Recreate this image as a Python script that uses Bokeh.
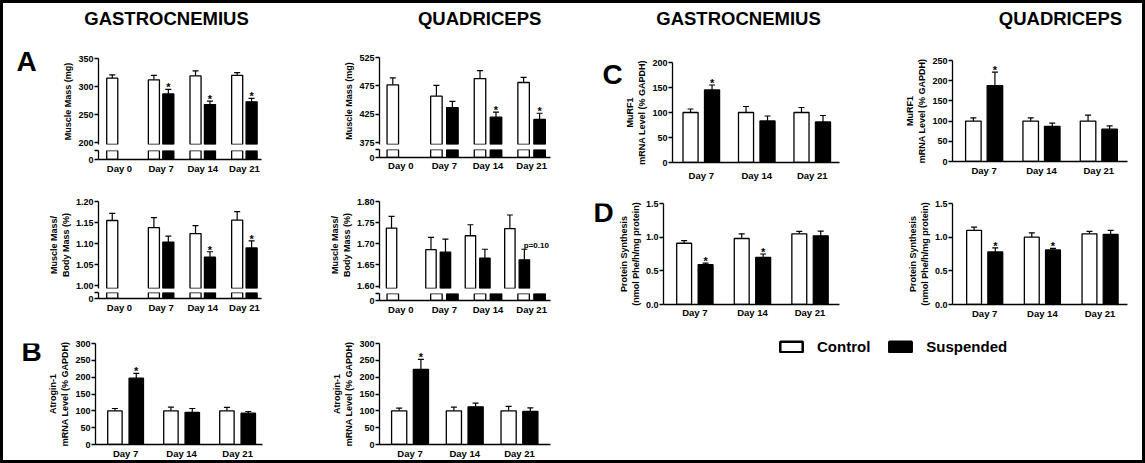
from bokeh.plotting import figure
from bokeh.models import (Range1d, FixedTicker, Whisker, TeeHead, ColumnDataSource,
                          Legend, LegendItem, NumeralTickFormatter)
from bokeh.layouts import row, column
from bokeh.embed import file_html
from bokeh.resources import INLINE
from bokeh.core.properties import value

# ------------------------------------------------------------------ data
days_a = ["Day 0", "Day 7", "Day 14", "Day 21"]
days_bcd = ["Day 7", "Day 14", "Day 21"]
series_names = ["Control", "Suspended"]
muscles = ["GASTROCNEMIUS", "QUADRICEPS"]
panel_letters = ["A", "B", "C", "D"]

gas_mass_ctrl = [315, 312, 319, 320]
gas_mass_ctrl_err = [6, 8, 9, 5]
gas_mass_susp = [287, 268, 273]
gas_mass_susp_err = [8, 6, 6]
gas_mass_note = ["*", "*", "*"]

gas_ratio_ctrl = [1.155, 1.138, 1.124, 1.156]
gas_ratio_ctrl_err = [0.017, 0.024, 0.019, 0.020]
gas_ratio_susp = [1.104, 1.068, 1.090]
gas_ratio_susp_err = [0.014, 0.013, 0.017]
gas_ratio_note = ["", "*", "*"]

quad_mass_ctrl = [477, 457, 488, 481]
quad_mass_ctrl_err = [12, 19, 14, 9]
quad_mass_susp = [437, 420, 416]
quad_mass_susp_err = [11, 9, 11]
quad_mass_note = ["", "*", "*"]

quad_ratio_ctrl = [1.737, 1.686, 1.719, 1.736]
quad_ratio_ctrl_err = [0.028, 0.029, 0.026, 0.032]
quad_ratio_susp = [1.680, 1.666, 1.662]
quad_ratio_susp_err = [0.031, 0.021, 0.025]
quad_ratio_note = ["", "", "p=0.10"]

gas_atro_ctrl = [100, 100, 100]
gas_atro_ctrl_err = [7, 11, 10]
gas_atro_susp = [197, 95, 93]
gas_atro_susp_err = [14, 12, 5]
gas_atro_note = ["*", "", ""]

quad_atro_ctrl = [100, 100, 100]
quad_atro_ctrl_err = [8, 11, 13]
quad_atro_susp = [223, 112, 98]
quad_atro_susp_err = [30, 11, 11]
quad_atro_note = ["*", "", ""]

gas_murf_ctrl = [100, 100, 100]
gas_murf_ctrl_err = [7, 12, 10]
gas_murf_susp = [145, 83, 81]
gas_murf_susp_err = [10, 10, 13]
gas_murf_note = ["*", "", ""]

quad_murf_ctrl = [100, 100, 100]
quad_murf_ctrl_err = [8, 8, 15]
quad_murf_susp = [188, 87, 80]
quad_murf_susp_err = [33, 8, 8]
quad_murf_note = ["*", "", ""]

gas_ps_ctrl = [0.91, 0.98, 1.05]
gas_ps_ctrl_err = [0.04, 0.07, 0.035]
gas_ps_susp = [0.59, 0.70, 1.02]
gas_ps_susp_err = [0.025, 0.05, 0.07]
gas_ps_note = ["*", "*", ""]

quad_ps_ctrl = [1.10, 1.00, 1.05]
quad_ps_ctrl_err = [0.05, 0.065, 0.035]
quad_ps_susp = [0.78, 0.81, 1.04]
quad_ps_susp_err = [0.06, 0.025, 0.06]
quad_ps_note = ["*", "*", ""]

# ------------------------------------------------------------------ helpers
FONT = "Liberation Sans"
TOTAL_W, TOTAL_H = 1145, 463


def yrange(cal, fy0, fy1):
    (v1, p1), (v2, p2) = cal
    k = (v2 - v1) / (p2 - p1)
    return Range1d(v1 + (fy1 - p1) * k, v1 + (fy0 - p1) * k)


def base(width, height, **kw):
    p = figure(width=width, height=height, output_backend="svg", toolbar_location=None,
               tools="", outline_line_color=None, border_fill_color=None,
               background_fill_color=None, **kw)
    p.xgrid.visible = False
    p.ygrid.visible = False
    return p


def make_fig(xb, fx, yb, fy, y_range, xgeo, xaxis):
    x0, x1 = xb
    top, bottom = yb
    fx0, fx1 = fx
    fy0, fy1 = fy
    W = x1 - x0
    left = round(fx0 - x0)
    fw = round(fx1 - fx0)
    T, FT, FB, B = round(top), round(fy0), round(fy1), round(bottom)
    c0, sp = xgeo[0], xgeo[1]
    xr = Range1d((fx0 - c0) / sp, (fx1 - c0) / sp)
    return base(W, B - T, x_range=xr, y_range=y_range,
                min_border_left=left, min_border_right=W - left - fw,
                min_border_top=FT - T, min_border_bottom=B - FB,
                x_axis_location="below" if xaxis else None)


def text_fig(xb, yb, items):
    x0, x1 = xb
    y0, y1 = round(yb[0]), round(yb[1])
    p = base(x1 - x0, y1 - y0, x_range=Range1d(0, x1 - x0), y_range=Range1d(y1 - y0, 0),
             min_border=0, x_axis_location=None, y_axis_location=None)
    for rx, ry, txt, size in items:
        p.text(x=[rx - x0], y=[ry - y0], text=[txt], text_font=value(FONT),
               text_font_style="bold", text_font_size=size, text_align="center",
               text_baseline="middle", text_color="black")
    return p


def style_axis(ax):
    ax.axis_line_width = 1.3
    ax.axis_line_color = "black"
    ax.major_tick_line_width = 1.3
    ax.major_tick_line_color = "black"
    ax.minor_tick_line_color = None
    ax.major_label_text_font = FONT
    ax.major_label_text_font_style = "bold"
    ax.major_label_text_font_size = "9px"
    ax.major_label_text_color = "black"
    ax.axis_label_text_font = FONT
    ax.axis_label_text_font_style = "bold"
    ax.axis_label_text_font_size = "9px"
    ax.axis_label_text_color = "black"


def set_yaxis(p, ticks, fmt=None, label=None, overrides=None):
    ax = p.yaxis[0]
    style_axis(ax)
    ax.ticker = FixedTicker(ticks=ticks)
    ax.major_tick_out = 4
    ax.major_tick_in = 0
    ax.major_label_standoff = 1
    if fmt:
        ax.formatter = NumeralTickFormatter(format=fmt)
    if overrides:
        ax.major_label_overrides = overrides
    if label:
        ax.axis_label = label
        ax.axis_label_standoff = 2


def set_xaxis(p, labels, standoff):
    ax = p.xaxis[0]
    style_axis(ax)
    ax.major_label_text_font_size = "9.5px"
    ax.ticker = FixedTicker(ticks=list(range(len(labels))))
    ax.major_label_overrides = {i: d for i, d in enumerate(labels)}
    ax.major_tick_line_color = None
    ax.major_tick_out = 0
    ax.major_tick_in = 0
    ax.major_label_standoff = standoff


def draw_bars(p, xgeo, ctrl, susp, first_susp):
    c0, sp, off, w = xgeo
    xc = [i - off / sp for i in range(len(ctrl))]
    xs = [first_susp + i + off / sp for i in range(len(susp))]
    p.vbar(x=xc, top=ctrl, bottom=0, width=w / sp, fill_color="white",
           line_color="black", line_width=1.3)
    p.vbar(x=xs, top=susp, bottom=0, width=w / sp, fill_color="black",
           line_color="black", line_width=1.3)
    return xc, xs


def draw_err(p, xs, vals, errs):
    src = ColumnDataSource(dict(x=xs, lo=vals, hi=[v + e for v, e in zip(vals, errs)]))
    p.add_layout(Whisker(source=src, base="x", lower="lo", upper="hi", dimension="height",
                         line_color="black", line_width=1.2, lower_head=None,
                         upper_head=TeeHead(size=6, line_color="black", line_width=1.2)))


def draw_notes(p, xs, vals, errs, notes):
    sx = [x for x, n in zip(xs, notes) if n == "*"]
    sy = [v + e for v, e, n in zip(vals, errs, notes) if n == "*"]
    if sx:
        p.text(x=sx, y=sy, text=["*"] * len(sx), text_font=value(FONT),
               text_font_style="bold", text_font_size="11px", text_align="center",
               text_baseline="alphabetic", y_offset=-2, text_color="black")
    ox = [x for x, n in zip(xs, notes) if n not in ("", "*")]
    oy = [v + e for v, e, n in zip(vals, errs, notes) if n not in ("", "*")]
    ot = [n for n in notes if n not in ("", "*")]
    if ox:
        p.text(x=ox, y=oy, text=ot, text_font=value(FONT), text_font_style="bold",
               text_font_size="8px", text_align="center", text_baseline="alphabetic",
               x_offset=12, y_offset=-4, text_color="black")


def broken_panel(xb, fx, top, fy_up, split, fy_low, bottom, cal, ticks, fmt, label,
                 xgeo, ctrl, cerr, susp, serr, notes, standoff, fx_up_right=None):
    (v1, p1), (v2, p2) = cal
    k = (v2 - v1) / (p2 - p1)
    # the upper part has no x axis; its (invisible) frame may reach further right
    fxu = (fx[0], fx_up_right if fx_up_right else fx[1])
    up = make_fig(xb, fxu, (top, split), fy_up, yrange(cal, *fy_up), xgeo, False)
    set_yaxis(up, ticks, fmt, label)
    xc, xs = draw_bars(up, xgeo, ctrl, susp, 1)
    draw_err(up, xc, ctrl, cerr)
    draw_err(up, xs, susp, serr)
    draw_notes(up, xs, susp, serr, notes)
    hi = (fy_low[0] - fy_low[1]) * k
    lo = make_fig(xb, fx, (split, bottom), fy_low, Range1d(0, hi), xgeo, True)
    set_yaxis(lo, [0, hi], None, None, {0: "0", hi: ""})
    draw_bars(lo, xgeo, ctrl, susp, 1)
    set_xaxis(lo, days_a, standoff)
    return up, lo


def simple_panel(xb, fx, yb, fy, cal, ticks, fmt, label, xgeo,
                 ctrl, cerr, susp, serr, notes, standoff):
    p = make_fig(xb, fx, yb, fy, yrange(cal, *fy), xgeo, True)
    set_yaxis(p, ticks, fmt, label)
    xc, xs = draw_bars(p, xgeo, ctrl, susp, 0)
    draw_err(p, xc, ctrl, cerr)
    draw_err(p, xs, susp, serr)
    draw_notes(p, xs, susp, serr, notes)
    set_xaxis(p, days_bcd, standoff)
    return p


# x-geometry of the groups: first centre, spacing, bar offset, bar width (px)
G_AG = (112.3, 43.3, 7.5, 11.5)
G_AQ = (400.3, 43.6, 8.0, 11.5)
G_BG = (119.6, 58.25, 11.1, 15.0)
G_BQ = (408.5, 55.9, 11.1, 15.5)
G_CG = (695.0, 57.8, 11.2, 15.7)
G_CQ = (983.7, 58.0, 10.9, 15.7)
G_DG = (693.3, 58.0, 10.8, 15.0)
G_DQ = (982.5, 58.25, 10.7, 15.0)
HEAD = 40

# ---- column 1 : gastrocnemius A / B
XA = (45, 290)
a1u, a1l = broken_panel(XA, (90.5, 260), HEAD, (58.3, 144.4), 149, (150, 159.3), 185,
                        ((200, 142.7), (350, 58.3)), [200, 250, 300, 350], None,
                        "Muscle Mass (mg)", G_AG, gas_mass_ctrl, gas_mass_ctrl_err,
                        gas_mass_susp, gas_mass_susp_err, gas_mass_note, 3)
a2u, a2l = broken_panel(XA, (90.5, 260), 185, (200.7, 287.5), 291, (291.7, 299), 315,
                        ((1.20, 200.7), (1.00, 285)), [1.00, 1.05, 1.10, 1.15, 1.20], "0.00",
                        "Muscle Mass/\nBody Mass (%)", G_AG, gas_ratio_ctrl, gas_ratio_ctrl_err,
                        gas_ratio_susp, gas_ratio_susp_err, gas_ratio_note, 3)
b1 = simple_panel(XA, (88.3, 262), (315, TOTAL_H), (343.3, 444.3), ((300, 343.3), (0, 444.3)),
                  [0, 50, 100, 150, 200, 250, 300], None, "Atrogin-1\nmRNA Level (% GAPDH)",
                  G_BG, gas_atro_ctrl, gas_atro_ctrl_err, gas_atro_susp, gas_atro_susp_err,
                  gas_atro_note, 3)
h1 = text_fig((0, 290), (0, HEAD), [(166, 18, muscles[0], "18.5px")])
sA = text_fig((0, 45), (HEAD, 315), [(26, 61, panel_letters[0], "28px")])
sB = text_fig((0, 45), (315, TOTAL_H), [(31, 326, panel_letters[1], "28px")])
col1 = column(h1, row(sA, column(a1u, a1l, a2u, a2l)), row(sB, b1))

# ---- column 2 : quadriceps A / B
XQ = (290, 570)
q1u, q1l = broken_panel(XQ, (379, 550), HEAD, (57.3, 144), 148, (149, 156.7), 182,
                        ((525, 57.3), (375, 142.3)), [375, 425, 475, 525], None,
                        "Muscle Mass (mg)", G_AQ, quad_mass_ctrl, quad_mass_ctrl_err,
                        quad_mass_susp, quad_mass_susp_err, quad_mass_note, 2)
q2u, q2l = broken_panel(XQ, (379, 550), 182, (200.7, 288.2), 292, (292.7, 301), 317,
                        ((1.80, 200.7), (1.60, 285.7)), [1.60, 1.65, 1.70, 1.75, 1.80], "0.00",
                        "Muscle Mass/\nBody Mass (%)", G_AQ, quad_ratio_ctrl, quad_ratio_ctrl_err,
                        quad_ratio_susp, quad_ratio_susp_err, quad_ratio_note, 3,
                        fx_up_right=568)
b2 = simple_panel(XQ, (377.3, 552), (317, TOTAL_H), (343.3, 444.3), ((300, 343.3), (0, 444.3)),
                  [0, 50, 100, 150, 200, 250, 300], None, "Atrogin-1\nmRNA Level (% GAPDH)",
                  G_BQ, quad_atro_ctrl, quad_atro_ctrl_err, quad_atro_susp, quad_atro_susp_err,
                  quad_atro_note, 3)
h2 = text_fig(XQ, (0, HEAD), [(454, 18, muscles[1], "18.5px")])
col2 = column(h2, q1u, q1l, q2u, q2l, b2)

# ---- column 3 / 4 : C and D
cg = simple_panel((622, 850), (665, 839), (HEAD, 185), (61.7, 162.3), ((200, 61.7), (0, 162.3)),
                  [0, 50, 100, 150, 200], None, "MuRF1\nmRNA Level (% GAPDH)", G_CG,
                  gas_murf_ctrl, gas_murf_ctrl_err, gas_murf_susp, gas_murf_susp_err,
                  gas_murf_note, 7)
dg = simple_panel((615, 850), (661.7, 839), (185, 321), (203.3, 304), ((1.5, 203.3), (0, 304)),
                  [0, 0.5, 1.0, 1.5], "0.0", "Protein Synthesis\n(nmol Phe/h/mg protein)",
                  G_DG, gas_ps_ctrl, gas_ps_ctrl_err, gas_ps_susp, gas_ps_susp_err,
                  gas_ps_note, 2)
cq = simple_panel((850, TOTAL_W), (951.7, 1128.7), (HEAD, 185), (60, 160.7), ((250, 60), (0, 160.7)),
                  [0, 50, 100, 150, 200, 250], None, "MuRF1\nmRNA Level (% GAPDH)", G_CQ,
                  quad_murf_ctrl, quad_murf_ctrl_err, quad_murf_susp, quad_murf_susp_err,
                  quad_murf_note, 3)
dq = simple_panel((850, TOTAL_W), (950, 1126.7), (185, 321), (203.3, 304), ((1.5, 203.3), (0, 304)),
                  [0, 0.5, 1.0, 1.5], "0.0", "Protein Synthesis\n(nmol Phe/h/mg protein)",
                  G_DQ, quad_ps_ctrl, quad_ps_ctrl_err, quad_ps_susp, quad_ps_susp_err,
                  quad_ps_note, 3)
h3 = text_fig((570, 850), (0, HEAD), [(738, 18, muscles[0], "18.5px")])
h4 = text_fig((850, TOTAL_W), (0, HEAD), [(1032, 18, muscles[1], "18.5px")])
sC = text_fig((570, 622), (HEAD, 185), [(612, 57, panel_letters[2], "28px")])
sD = text_fig((570, 615), (185, 321), [(603, 197, panel_letters[3], "28px")])

# ---- legend (its two sample bars sit outside the visible range; only the key shows)
LT = 321
LH = TOTAL_H - LT
leg = base(TOTAL_W - 570, LH, x_range=Range1d(0, 1), y_range=Range1d(0, 1),
           x_axis_location=None, y_axis_location=None, min_border=0)
r_c = leg.vbar(x=[50], top=[51], bottom=[50], width=0.1, fill_color="white",
               line_color="black", line_width=2.5)
r_s = leg.vbar(x=[50], top=[51], bottom=[50], width=0.1, fill_color="black",
               line_color="black", line_width=2.5)
legend = Legend(items=[LegendItem(label=series_names[0], renderers=[r_c]),
                       LegendItem(label=series_names[1], renderers=[r_s])],
                location=(777 - 570, LH - (342 - LT) - 13), orientation="horizontal",
                glyph_width=28, glyph_height=13, label_height=13, label_width=0,
                label_standoff=12, spacing=16, padding=0, margin=0,
                border_line_color=None, background_fill_alpha=0,
                label_text_font=FONT, label_text_font_style="bold",
                label_text_font_size="15px", label_text_color="black")
leg.add_layout(legend)

col3 = column(h3, row(sC, cg), row(sD, dg))
col4 = column(h4, cq, dq)
right = column(row(col3, col4), leg)
root = row(col1, col2, right)
root.styles = {"outline": "3px solid black", "outline-offset": "-3px"}

open("out.html", "w").write(file_html(root, INLINE))
